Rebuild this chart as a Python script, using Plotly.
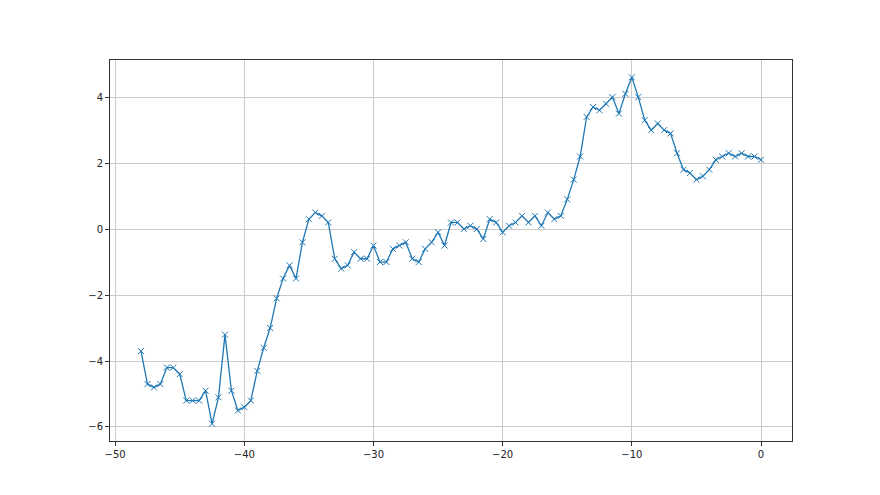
import plotly.graph_objects as go

x_values = [-48 + 0.5 * i for i in range(97)]
y_values = [
    -3.7, -4.7, -4.8, -4.7, -4.2, -4.2, -4.4, -5.2, -5.2, -5.2,
    -4.9, -5.9, -5.1, -3.2, -4.9, -5.5, -5.4, -5.2, -4.3, -3.6,
    -3.0, -2.1, -1.5, -1.1, -1.5, -0.4, 0.3, 0.5, 0.4, 0.2,
    -0.9, -1.2, -1.1, -0.7, -0.9, -0.9, -0.5, -1.0, -1.0, -0.6,
    -0.5, -0.4, -0.9, -1.0, -0.6, -0.4, -0.1, -0.5, 0.2, 0.2,
    0.0, 0.1, 0.0, -0.3, 0.3, 0.2, -0.1, 0.1, 0.2, 0.4,
    0.2, 0.4, 0.1, 0.5, 0.3, 0.4, 0.9, 1.5, 2.2, 3.4,
    3.7, 3.6, 3.8, 4.0, 3.5, 4.1, 4.6, 4.0, 3.3, 3.0,
    3.2, 3.0, 2.9, 2.3, 1.8, 1.7, 1.5, 1.6, 1.8, 2.1,
    2.2, 2.3, 2.2, 2.3, 2.2, 2.2, 2.1,
]

x_ticks = [-50, -40, -30, -20, -10, 0]
x_tick_labels = ["\u221250", "\u221240", "\u221230", "\u221220", "\u221210", "0"]
y_ticks = [-6, -4, -2, 0, 2, 4]
y_tick_labels = ["\u22126", "\u22124", "\u22122", "0", "2", "4"]

blue = "#1f77b4"

fig = go.Figure(
    go.Scatter(
        x=x_values,
        y=y_values,
        mode="lines+markers",
        line=dict(color=blue, width=1.3),
        marker=dict(symbol="x-thin", size=6, color=blue,
                    line=dict(color=blue, width=1)),
        showlegend=False,
    )
)

span_x = max(x_values) - min(x_values)
span_y = max(y_values) - min(y_values)

axis_common = dict(
    showgrid=True,
    gridcolor="#cbcbcb",
    gridwidth=1,
    zeroline=False,
    showline=True,
    linecolor="#333333",
    linewidth=1,
    mirror=True,
    ticks="outside",
    ticklen=4,
    tickwidth=1,
    tickcolor="#333333",
    tickfont=dict(family="DejaVu Sans", size=10, color="#222222"),
)

fig.update_xaxes(
    range=[min(x_values) - 0.05 * span_x, max(x_values) + 0.05 * span_x],
    tickmode="array", tickvals=x_ticks, ticktext=x_tick_labels,
    **axis_common,
)
fig.update_yaxes(
    range=[min(y_values) - 0.05 * span_y, max(y_values) + 0.05 * span_y],
    tickmode="array", tickvals=y_ticks, ticktext=y_tick_labels,
    **axis_common,
)

fig.update_layout(
    width=880,
    height=495,
    margin=dict(l=102, r=96, t=52, b=62),
    paper_bgcolor="#ffffff",
    plot_bgcolor="#ffffff",
)

fig.write_html("out.html")
